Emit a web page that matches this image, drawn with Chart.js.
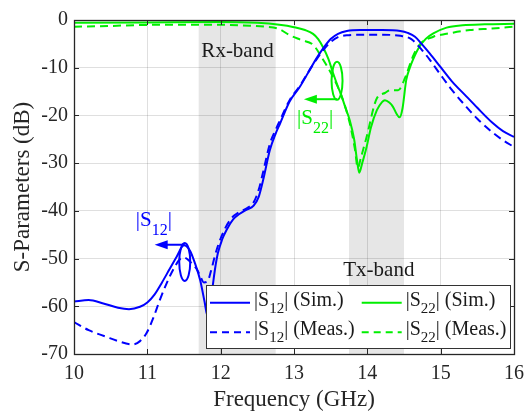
<!DOCTYPE html>
<html><head><meta charset="utf-8">
<script src="https://cdn.jsdelivr.net/npm/chart.js@4.4.0/dist/chart.umd.min.js"></script>
<style>html,body{margin:0;padding:0;background:#fff;}</style>
</head><body>
<canvas id="c" width="526" height="414" style="display:block;width:526px;height:414px"></canvas>
<script>
// ---------- data ----------
const freqS12Sim = [10.0,10.2,10.4,10.6,10.75,10.9,11.0,11.1,11.2,11.3,11.4,11.5,11.58,11.65,11.72,11.78,11.82,11.86,11.89,11.92,11.96,12.02,12.08,12.17,12.26,12.35,12.45,12.52,12.58,12.67,12.75,12.81,12.94,13.08,13.22,13.3,13.4,13.5,13.6,13.72,13.9,14.2,14.45,14.55,14.65,14.74,14.85,15.0,15.15,15.35,15.5,15.71,15.85,16.0];
const s12Sim     = [-59.0,-58.7,-59.4,-60.3,-60.6,-60.1,-59.2,-57.5,-55.0,-52.3,-49.6,-47.2,-48.3,-51.0,-54.5,-59.0,-62.0,-59.5,-56.0,-52.5,-49.0,-46.0,-44.0,-41.8,-40.6,-39.8,-38.9,-37.0,-33.5,-27.3,-23.8,-21.7,-17.1,-14.0,-10.3,-8.2,-5.9,-4.0,-2.9,-2.3,-2.1,-2.1,-2.3,-2.7,-3.5,-5.0,-7.0,-9.9,-12.8,-16.0,-18.4,-21.6,-23.3,-24.5];

const freqS12Meas = [10.0,10.2,10.44,10.6,10.8,10.9,10.99,11.08,11.17,11.26,11.35,11.44,11.5,11.58,11.67,11.72,11.77,11.82,11.87,11.92,11.97,12.05,12.15,12.25,12.35,12.45,12.52,12.58,12.67,12.75,12.81,12.94,13.08,13.22,13.3,13.4,13.5,13.6,13.72,13.9,14.2,14.45,14.6,14.74,14.85,15.0,15.15,15.35,15.5,15.71,15.85,16.0];
const s12Meas     = [-63.3,-65.0,-66.4,-67.3,-68.0,-67.3,-65.6,-62.5,-58.7,-55.3,-52.4,-50.2,-49.8,-50.6,-52.1,-53.6,-55.0,-54.8,-52.5,-49.5,-47.0,-44.0,-41.5,-40.3,-39.5,-38.2,-35.5,-31.8,-26.0,-23.0,-21.0,-16.8,-13.8,-10.3,-8.4,-6.3,-4.6,-3.6,-3.2,-3.1,-3.1,-3.3,-4.0,-6.2,-8.3,-11.5,-14.6,-18.2,-20.7,-23.6,-25.2,-26.6];

const freqS22Sim = [10.0,11.0,12.0,12.5,12.8,13.0,13.15,13.26,13.33,13.4,13.47,13.53,13.6,13.65,13.7,13.76,13.82,13.86,13.89,13.93,13.99,14.05,14.13,14.2,14.24,14.3,14.35,14.4,14.44,14.48,14.53,14.58,14.62,14.71,14.8,14.9,15.08,15.3,15.6,16.0];
const s22Sim     = [-0.6,-0.5,-0.4,-0.6,-1.0,-1.5,-2.1,-2.9,-4.0,-5.8,-8.2,-11.0,-14.0,-16.0,-18.3,-21.0,-25.0,-29.5,-32.0,-30.0,-26.6,-22.5,-18.9,-17.2,-16.8,-17.3,-18.2,-19.7,-20.4,-18.5,-12.6,-10.0,-8.4,-5.6,-3.9,-2.8,-1.6,-1.1,-0.9,-0.8];

const freqS22Meas = [10.0,10.5,10.9,11.5,12.0,12.4,12.6,12.8,12.93,13.1,13.26,13.4,13.53,13.65,13.76,13.83,13.87,13.91,13.99,14.13,14.24,14.31,14.42,14.53,14.62,14.71,14.9,15.08,15.4,15.7,16.0];
const s22Meas     = [-1.4,-1.25,-1.05,-1.0,-1.0,-1.2,-1.4,-1.9,-3.1,-4.2,-5.2,-8.4,-11.9,-16.0,-21.6,-27.0,-31.0,-29.0,-24.5,-16.4,-15.3,-14.7,-14.7,-11.5,-7.7,-5.2,-3.5,-2.9,-2.1,-1.8,-1.4];

const xTicks = [10,11,12,13,14,15,16];
const yTicks = [0,-10,-20,-30,-40,-50,-60,-70];
const rxBand = [11.7, 12.75];
const txBand = [13.75, 14.5];
const bandLabels = ['Rx-band','Tx-band'];
const bandLabelPos = [[12.23,-6.6],[14.157,-52.4]];

const seriesNames = [
  {pre:'|S', sub:'12', post:'| (Sim.)'},
  {pre:'|S', sub:'12', post:'| (Meas.)'},
  {pre:'|S', sub:'22', post:'| (Sim.)'},
  {pre:'|S', sub:'22', post:'| (Meas.)'}
];
// annotation anchors in data units
const s12Note = {ex:11.51, ey:-50.7, ay:-47.1, tipX:11.10, tx:10.842, ty:-43.2, sub:'12'};
const s22Note = {ex:13.587, ey:-12.75, ay:-16.6, tipX:13.135, tx:13.042, ty:-21.7, sub:'22'};

// ---------- helpers ----------
const BLUE = '#0000ff', GREEN = '#00ee00', AX = '#262626';
const SERIF = '"Liberation Serif","Times New Roman",serif';
function pts(xs, ys){ return xs.map((x,i)=>({x:x, y:ys[i]})); }
function rich(ctx, x, y, parts, size, subSize, subOff, color){
  ctx.save(); ctx.fillStyle = color; ctx.textAlign='left'; ctx.textBaseline='alphabetic';
  let cx = x;
  for (const p of parts){
    const fs = p.sub ? subSize : size;
    ctx.font = fs + 'px ' + SERIF;
    ctx.fillText(p.t, cx, y + (p.sub ? subOff : 0));
    cx += ctx.measureText(p.t).width;
  }
  ctx.restore();
}

const bandPlugin = {
  id:'bands',
  beforeDraw(chart){
    const {ctx, chartArea:a, scales:{x}} = chart;
    ctx.save(); ctx.fillStyle = '#e6e6e6';
    for (const b of [rxBand, txBand]){
      const x0 = x.getPixelForValue(b[0]), x1 = x.getPixelForValue(b[1]);
      ctx.fillRect(x0, a.top, x1-x0, a.bottom-a.top);
    }
    ctx.restore();
  }
};

const framePlugin = {
  id:'frame',
  afterDatasetsDraw(chart){
    const {ctx, chartArea:a, scales:{x,y}} = chart;
    ctx.save();
    ctx.strokeStyle = AX; ctx.lineWidth = 1;
    ctx.beginPath();
    for (const t of xTicks){
      const px = Math.round(x.getPixelForValue(t))+0.5;
      ctx.moveTo(px, a.bottom); ctx.lineTo(px, a.bottom-5);
      ctx.moveTo(px, a.top); ctx.lineTo(px, a.top+5);
    }
    for (const t of yTicks){
      const py = Math.round(y.getPixelForValue(t))+0.5;
      ctx.moveTo(a.left, py); ctx.lineTo(a.left+5, py);
      ctx.moveTo(a.right, py); ctx.lineTo(a.right-5, py);
    }
    ctx.stroke();
    ctx.lineWidth = 1.3;
    ctx.strokeRect(Math.round(a.left)+0.5, Math.round(a.top)+0.5, Math.round(a.right-a.left), Math.round(a.bottom-a.top));
    ctx.restore();
  },
  afterDraw(chart){
    const {ctx, chartArea:a, scales:{x,y}} = chart;
    // band labels
    ctx.save();
    ctx.fillStyle = '#1a1a1a'; ctx.font = '21px ' + SERIF; ctx.textAlign='center'; ctx.textBaseline='middle';
    bandLabels.forEach((t,i)=>ctx.fillText(t, x.getPixelForValue(bandLabelPos[i][0]), y.getPixelForValue(bandLabelPos[i][1])));
    ctx.restore();
    // annotations
    for (const [n,col] of [[s12Note,BLUE],[s22Note,GREEN]]){
      const ex = x.getPixelForValue(n.ex), ey = y.getPixelForValue(n.ey);
      const ay = y.getPixelForValue(n.ay), tip = x.getPixelForValue(n.tipX);
      ctx.save(); ctx.strokeStyle = col; ctx.fillStyle = col; ctx.lineWidth = 2;
      ctx.beginPath(); ctx.ellipse(ex, ey, 5.5, 19, 0, 0, Math.PI*2); ctx.stroke();
      ctx.beginPath(); ctx.moveTo(ex, ay); ctx.lineTo(tip+10, ay); ctx.stroke();
      ctx.beginPath(); ctx.moveTo(tip, ay); ctx.lineTo(tip+13, ay-4.5); ctx.lineTo(tip+13, ay+4.5); ctx.closePath(); ctx.fill();
      ctx.restore();
      rich(ctx, x.getPixelForValue(n.tx), y.getPixelForValue(n.ty), [{t:'|S'},{t:n.sub,sub:true},{t:'|'}], 21, 16, 9, col);
    }
    // legend
    const w = 304, h = 63;
    const lx = a.right - 4 - w, ly = a.bottom - 6 - h;
    ctx.save();
    ctx.fillStyle = '#fff'; ctx.fillRect(lx, ly, w, h);
    ctx.strokeStyle = '#333'; ctx.lineWidth = 1; ctx.strokeRect(Math.round(lx)+0.5, Math.round(ly)+0.5, w, h);
    ctx.restore();
    const cols = [lx+4, lx+155.7];
    const rows = [ly+17.7, ly+47.3];
    const styles = [[BLUE,[]],[BLUE,[7,5]],[GREEN,[]],[GREEN,[7,5]]];
    seriesNames.forEach((s,i)=>{
      const c = cols[Math.floor(i/2)], r = rows[i%2];
      ctx.save(); ctx.strokeStyle = styles[i][0]; ctx.lineWidth = 2; ctx.setLineDash(styles[i][1]);
      ctx.beginPath(); ctx.moveTo(c, r); ctx.lineTo(c+40, r); ctx.stroke(); ctx.restore();
      rich(ctx, c+44, r+3, [{t:s.pre},{t:s.sub,sub:true},{t:s.post}], 20, 15, 7, '#1a1a1a');
    });
  }
};

const ds = (data, color, dash) => ({
  data, borderColor: color, borderWidth: 2, borderDash: dash, pointRadius: 0,
  fill:false, cubicInterpolationMode:'monotone', clip: true
});

new Chart(document.getElementById('c'), {
  type:'line',
  data:{ datasets:[
    ds(pts(freqS12Sim, s12Sim), BLUE, []),
    ds(pts(freqS12Meas, s12Meas), BLUE, [8,5]),
    ds(pts(freqS22Sim, s22Sim), GREEN, []),
    ds(pts(freqS22Meas, s22Meas), GREEN, [8,5])
  ]},
  options:{
    responsive:false, animation:false, devicePixelRatio:1,
    layout:{ padding:{ top:20, right:12, left:0, bottom:0 } },
    plugins:{ legend:{display:false}, tooltip:{enabled:false} },
    scales:{
      x:{ type:'linear', min:10, max:16,
        afterFit(s){ s.height = 60; s.paddingLeft = 0; s.paddingRight = 0; },
        afterBuildTicks(s){ s.ticks = xTicks.map(v=>({value:v})); },
        grid:{ color:'rgba(38,38,38,0.15)', drawTicks:false, lineWidth:1 },
        border:{ display:false },
        ticks:{ padding:8, color:AX, font:{family:SERIF, size:20}, maxRotation:0 },
        title:{ display:true, text:'Frequency (GHz)', color:AX, font:{family:SERIF, size:23}, padding:{top:0,bottom:0} }
      },
      y:{ type:'linear', min:-70, max:0,
        afterFit(s){ s.width = 74; s.paddingTop = 0; s.paddingBottom = 0; },
        afterBuildTicks(s){ s.ticks = yTicks.map(v=>({value:v})); },
        grid:{ color:'rgba(38,38,38,0.15)', drawTicks:false, lineWidth:1 },
        border:{ display:false },
        ticks:{ padding:6, color:AX, font:{family:SERIF, size:20} },
        title:{ display:true, text:'S-Parameters (dB)', color:AX, font:{family:SERIF, size:23}, padding:{top:9,bottom:0} }
      }
    }
  },
  plugins:[bandPlugin, framePlugin]
});
</script>
</body></html>
